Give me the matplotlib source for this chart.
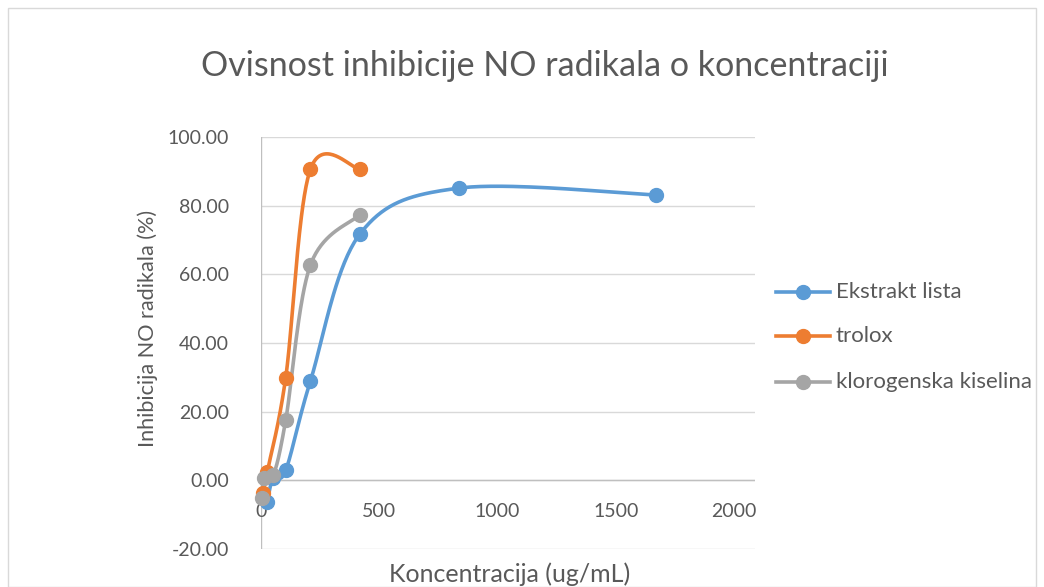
import numpy as np
import matplotlib
matplotlib.use("Agg")
import matplotlib.pyplot as plt
from matplotlib.lines import Line2D

# ---- data ----
ekstrakt_x = [25, 50, 100, 200, 400, 800, 1600]
ekstrakt_y = [-6.2, 0.8, 2.9, 28.9, 71.7, 85.1, 83.1]
trolox_x = [6.25, 25, 100, 200, 400]
trolox_y = [-3.8, 2.4, 29.9, 90.6, 90.6]
kloro_x = [3.125, 12.5, 50, 100, 200, 400]
kloro_y = [-5.0, 0.6, 1.5, 17.5, 62.7, 77.3]
series_names = ["Ekstrakt lista", "trolox", "klorogenska kiselina"]
colors = ["#5B9BD5", "#ED7D31", "#A5A5A5"]
x_ticks = [0, 500, 1000, 1500, 2000]
y_ticks = [-20, 0, 20, 40, 60, 80, 100]

title = "Ovisnost inhibicije NO radikala o koncentraciji"
xlabel = "Koncentracija (ug/mL)"
ylabel = "Inhibicija NO radikala (%)"

TXT = "#595959"
FONT = "Lato"


def smooth(x, y, n=40):
    """Excel-like smoothed line (Catmull-Rom Bezier)."""
    x = np.asarray(x, float)
    y = np.asarray(y, float)
    P = np.column_stack([x, y])
    out = [P[0]]
    m = len(P)
    for i in range(m - 1):
        p0 = P[i - 1] if i > 0 else P[i]
        p1 = P[i]
        p2 = P[i + 1]
        p3 = P[i + 2] if i + 2 < m else P[i + 1]
        c1 = p1 + (p2 - p0) / 6.0
        c2 = p2 - (p3 - p1) / 6.0
        t = np.linspace(0, 1, n)[1:, None]
        b = ((1 - t) ** 3) * p1 + 3 * ((1 - t) ** 2) * t * c1 + 3 * (1 - t) * t ** 2 * c2 + t ** 3 * p2
        out.extend(b)
    out = np.array(out)
    return out[:, 0], out[:, 1]


W, H = 1044, 587
fig = plt.figure(figsize=(W / 100, H / 100), dpi=100)
fig.patch.set_facecolor("white")

# chart border
fig.patches.append(matplotlib.patches.Rectangle((8 / W, 0), (1036 - 8) / W, (H - 8) / H,
                                                transform=fig.transFigure, fill=False,
                                                edgecolor="#D9D9D9", linewidth=1))

ax = fig.add_axes([261 / W, 1 - 549 / H, (755 - 261) / W, (549 - 137) / H])
ax.set_xlim(0, 2000)
ax.set_ylim(-20, 100)
for s in ax.spines.values():
    s.set_visible(False)
ax.set_yticks(y_ticks)
ax.set_yticklabels([f"{v:.2f}" for v in y_ticks], fontsize=14, color=TXT, family=FONT)
ax.tick_params(axis="both", length=0)
ax.tick_params(axis="y", pad=23)
ax.set_xticks([])
# x tick labels sit just below the zero line (as in the source, slightly compressed)
for v in x_ticks:
    ax.text(v * 0.958, -9.2, str(v), ha="center", va="center", fontsize=14, color=TXT, family=FONT)

for yv in y_ticks:
    ax.axhline(yv, color="#D9D9D9", lw=1, zorder=0)
ax.axhline(0, color="#BFBFBF", lw=1, zorder=0.5)
ax.axvline(0, color="#BFBFBF", lw=1, zorder=0.5)

for xs, ys, c in zip([ekstrakt_x, trolox_x, kloro_x], [ekstrakt_y, trolox_y, kloro_y], colors):
    sx, sy = smooth(xs, ys)
    ax.plot(sx, sy, color=c, lw=2.6, solid_capstyle="round", zorder=2, clip_on=False)
    ax.plot(xs, ys, "o", color=c, ms=10, zorder=3, clip_on=False)

fig.text(545 / W, 1 - 66 / H, title, ha="center", va="center", fontsize=24.5, color=TXT,
         family=FONT)
fig.text(510 / W, 1 - 574 / H, xlabel, ha="center", va="center", fontsize=18, color=TXT, family=FONT)
fig.text(148 / W, 1 - 328 / H, ylabel, ha="center", va="center", fontsize=15.6, color=TXT,
         family=FONT, rotation=90)

# legend
for name, c, yy in zip(series_names, colors, [292, 336, 382]):
    fy = 1 - yy / H
    fig.add_artist(Line2D([776 / W, 830 / W], [fy, fy], color=c, lw=2.6,
                          transform=fig.transFigure))
    fig.add_artist(Line2D([803 / W], [fy], marker="o", color=c, ms=10,
                          transform=fig.transFigure))
    fig.text(836 / W, fy, name, ha="left", va="center", fontsize=16, color=TXT, family=FONT)

fig.savefig("out.png", dpi=100)
